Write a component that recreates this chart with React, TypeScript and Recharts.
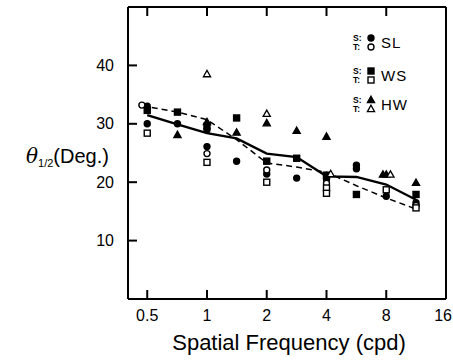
import React from "react";
import { ComposedChart, Line, Scatter, XAxis, YAxis } from "recharts";

// half-octave spatial frequencies (cpd)
const freqs = [0.5, 0.71, 1, 1.41, 2, 2.83, 4, 5.66, 8, 11.3];
const solidMean = [31.5, 29.9, 28.4, 27.5, 24.9, 24.3, 21.0, 20.9, 19.6, 17.0];
const dashedFreqs = [0.47, 0.71, 1, 1.41, 2, 2.83, 4, 5.66, 8, 11.3];
const dashedMean = [33.1, 32.0, 30.7, 27.3, 23.3, 22.6, 21.7, 19.4, 17.3, 15.4];

// [frequency, theta] pairs
const slS = [[0.5, 33.0], [0.5, 30.0], [0.71, 30.0], [1, 29.0], [1, 26.1], [1.41, 23.6], [2, 21.4], [2.83, 20.7], [4, 20.5], [5.66, 22.9], [5.66, 22.3], [8, 17.6], [11.3, 16.5]];
const slT = [[0.47, 33.2], [1, 24.9], [2, 22.1], [4, 19.8], [11.3, 16.0]];
const wsS = [[0.5, 32.3], [0.71, 32.0], [1, 29.6], [1.41, 31.0], [2, 23.6], [2.83, 24.1], [4, 21.2], [5.66, 17.9], [11.3, 17.9]];
const wsT = [[0.5, 28.4], [1, 23.4], [2, 20.0], [4, 19.0], [4, 18.1], [8, 18.7], [11.3, 15.6]];
const hwS = [[0.71, 28.1], [1, 30.3], [1.41, 28.5], [2, 30.1], [2.83, 28.8], [4, 27.8], [7.7, 21.3], [8, 21.3], [11.3, 19.9]];
const hwT = [[1, 38.5], [2, 31.7], [4.2, 21.4], [8.4, 21.3]];

const xTicks = [0.5, 1, 2, 4, 8, 16];
const yTicks = [10, 20, 30, 40];

const toPts = (arr: number[][]) => arr.map(([x, y]) => ({ x, y }));
const solidData = freqs.map((x, i) => ({ x, y: solidMean[i] }));
const dashedData = dashedFreqs.map((x, i) => ({ x, y: dashedMean[i] }));

const font = "'Liberation Sans', Arial, sans-serif";

const circle = (filled: boolean) => (p: any) => (
  <circle cx={p.cx} cy={p.cy} r={3} fill={filled ? "#000" : "#fff"} stroke="#000" strokeWidth={1.4} />
);
const square = (filled: boolean) => (p: any) => (
  <rect x={p.cx - 3} y={p.cy - 3} width={6} height={6} fill={filled ? "#000" : "#fff"} stroke="#000" strokeWidth={1.4} />
);
const triangle = (filled: boolean) => (p: any) => (
  <path d={`M${p.cx},${p.cy - 3.8}L${p.cx + 3.6},${p.cy + 2.6}L${p.cx - 3.6},${p.cy + 2.6}Z`} fill={filled ? "#000" : "#fff"} stroke="#000" strokeWidth={1.3} />
);

const BottomTick = (p: any) => {
  const last = p.payload.value === 16;
  return (
    <g>
      <line x1={p.x} y1={p.y} x2={p.x} y2={p.y - 9} stroke="#000" strokeWidth={2} />
      <text x={last ? p.x + 6 : p.x} y={p.y + 16} dy="0.35em" textAnchor={last ? "end" : "middle"} fontFamily={font} fontSize={16} fill="#000">
        {p.payload.value}
      </text>
    </g>
  );
};
const TopTick = (p: any) =>
  p.payload.value < 16 ? <line x1={p.x} y1={p.y} x2={p.x} y2={p.y + 9} stroke="#000" strokeWidth={2} /> : <g />;
const LeftTick = (p: any) => (
  <g>
    <line x1={p.x} y1={p.y} x2={p.x + 9} y2={p.y} stroke="#000" strokeWidth={2} />
    <text x={p.x - 14} y={p.y} dy="0.35em" textAnchor="end" fontFamily={font} fontSize={16} fill="#000">
      {p.payload.value}
    </text>
  </g>
);
const RightTick = (p: any) => <line x1={p.x} y1={p.y} x2={p.x - 9} y2={p.y} stroke="#000" strokeWidth={2} />;

const legendRows = [
  { name: "SL", y: 38, S: circle(true), T: circle(false) },
  { name: "WS", y: 71, S: square(true), T: square(false) },
  { name: "HW", y: 100, S: triangle(true), T: triangle(false) },
];

export default function App() {
  const axisLine = { stroke: "#000", strokeWidth: 2 };
  return (
    <div style={{ position: "absolute", left: 0, top: 0, width: 453, height: 360, background: "#fff" }}>
      <ComposedChart width={453} height={360} margin={{ top: 6, right: 6, bottom: 0, left: 0 }}>
        <XAxis dataKey="x" type="number" scale="log" domain={[0.4, 16]} allowDataOverflow ticks={xTicks} interval={0}
          height={61} tickSize={0} tickMargin={0} tickLine={false} axisLine={axisLine} tick={BottomTick} />
        <XAxis xAxisId="top" orientation="top" dataKey="x" type="number" scale="log" domain={[0.4, 16]} allowDataOverflow
          ticks={xTicks} interval={0} height={1} tickSize={0} tickMargin={0} tickLine={false} axisLine={axisLine} tick={TopTick} />
        <YAxis dataKey="y" type="number" domain={[0, 50]} ticks={yTicks} interval={0} width={128} tickSize={0}
          tickMargin={0} tickLine={false} axisLine={axisLine} tick={LeftTick} />
        <YAxis yAxisId="right" orientation="right" type="number" domain={[0, 50]} ticks={yTicks} interval={0} width={1}
          tickSize={0} tickMargin={0} tickLine={false} axisLine={axisLine} tick={RightTick} />
        <Line data={solidData} dataKey="y" stroke="#000" strokeWidth={2.4} dot={false} isAnimationActive={false} />
        <Line data={dashedData} dataKey="y" stroke="#000" strokeWidth={1.5} strokeDasharray="6 4" dot={false} isAnimationActive={false} />
        <Scatter data={toPts(slS)} dataKey="y" shape={circle(true)} isAnimationActive={false} />
        <Scatter data={toPts(slT)} dataKey="y" shape={circle(false)} isAnimationActive={false} />
        <Scatter data={toPts(wsS)} dataKey="y" shape={square(true)} isAnimationActive={false} />
        <Scatter data={toPts(wsT)} dataKey="y" shape={square(false)} isAnimationActive={false} />
        <Scatter data={toPts(hwS)} dataKey="y" shape={triangle(true)} isAnimationActive={false} />
        <Scatter data={toPts(hwT)} dataKey="y" shape={triangle(false)} isAnimationActive={false} />
      </ComposedChart>
      <svg width={453} height={360} style={{ position: "absolute", left: 0, top: 0, pointerEvents: "none" }}>
        <text x={289} y={342} dy="0.35em" textAnchor="middle" fontFamily={font} fontSize={22} fill="#000">
          Spatial Frequency (cpd)
        </text>
        <text x={26} y={163} fontFamily={font} fill="#000">
          <tspan fontStyle="italic" fontSize={20} fontFamily="'DejaVu Serif', serif">θ</tspan>
          <tspan fontSize={11} dy={4}>1/2</tspan>
          <tspan fontSize={20} dy={-4}>(Deg.)</tspan>
        </text>
        {legendRows.map((r) => (
          <g key={r.name}>
            <text x={353} y={r.y + 3} fontFamily={font} fontSize={8.5} fontWeight="bold" fill="#000">S:</text>
            <text x={353} y={r.y + 12} fontFamily={font} fontSize={8.5} fontWeight="bold" fill="#000">T:</text>
            {r.S({ cx: 371, cy: r.y })}
            {r.T({ cx: 371, cy: r.y + 9 })}
            <text x={381} y={r.y + 10} fontFamily={font} fontSize={15} letterSpacing={1} fill="#000">{r.name}</text>
          </g>
        ))}
      </svg>
    </div>
  );
}
